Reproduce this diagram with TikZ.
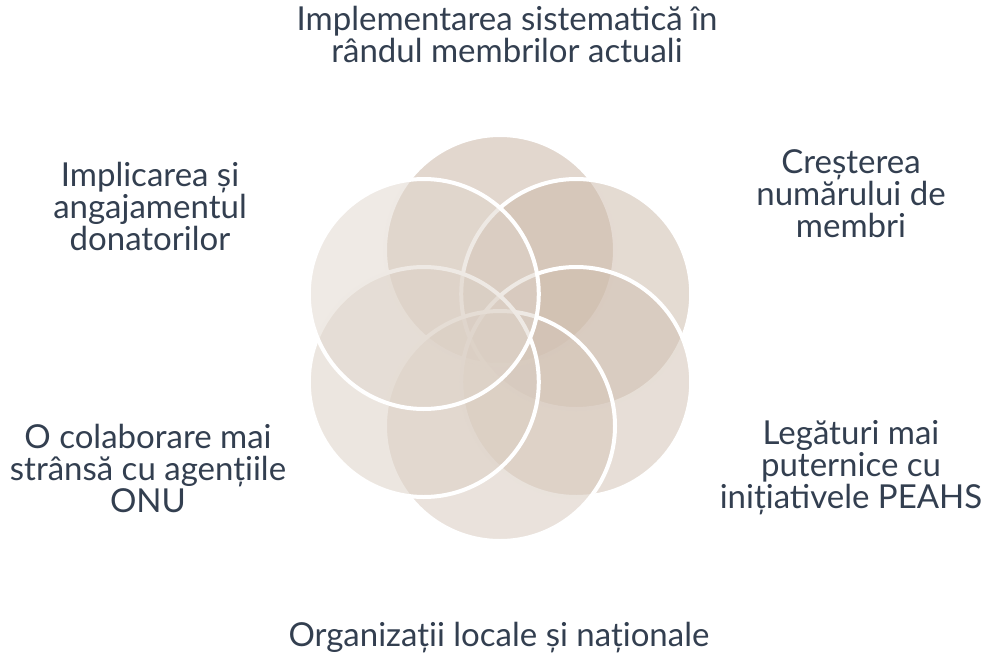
\documentclass[tikz,border=0pt]{standalone}
\usepackage{fontspec}
\setmainfont{Lato}
\usetikzlibrary{calc}
\definecolor{petalA}{HTML}{C5AF9D}
\definecolor{petalB}{HTML}{CAB7A6}
\definecolor{petalC}{HTML}{CFBEAF}
\definecolor{petalD}{HTML}{D5C6B9}
\definecolor{petalE}{HTML}{DACEC2}
\definecolor{petalF}{HTML}{DFD5CB}
\definecolor{labeltext}{HTML}{333F50}
\tikzset{
  petal/.style={circle, minimum size=230pt, inner sep=0pt, draw=white, line width=4pt, fill opacity=0.5},
  caption/.style={align=center, inner sep=0pt, text=labeltext, font=\fontsize{33}{32}\selectfont}
}

\begin{document}
\begin{tikzpicture}[x=1pt, y=-1pt]
  \useasboundingbox (0,0) rectangle (982,659);
  \coordinate (hub) at (500,338);

  % petals, clockwise from the top, each a little lighter
  \foreach \ang/\col/\name in {-90/petalA/top, -30/petalB/ur, 30/petalC/lr, 90/petalD/bot, 150/petalE/ll, 210/petalF/ul}
    \node[petal, fill=\col] (\name) at ($(hub)+(\ang:88)$) {};

  % captions
  \node[caption] (tTop) at (507,34) {Implementarea sistematică în\\rândul membrilor actuali};
  \node[caption] (tUR) at (851,194) {Creșterea\\numărului de\\membri};
  \node[caption] (tLR) at (851,468) {Legături mai\\puternice cu\\inițiativele PEAHS};
  \node[caption] (tBot) at (499,638) {Organizații locale și naționale};
  \node[caption] (tLL) at (148,468) {O colaborare mai\\strânsă cu agențiile\\ONU};
  \node[caption] (tUL) at (150,206) {Implicarea și\\angajamentul\\donatorilor};
\end{tikzpicture}
\end{document}
